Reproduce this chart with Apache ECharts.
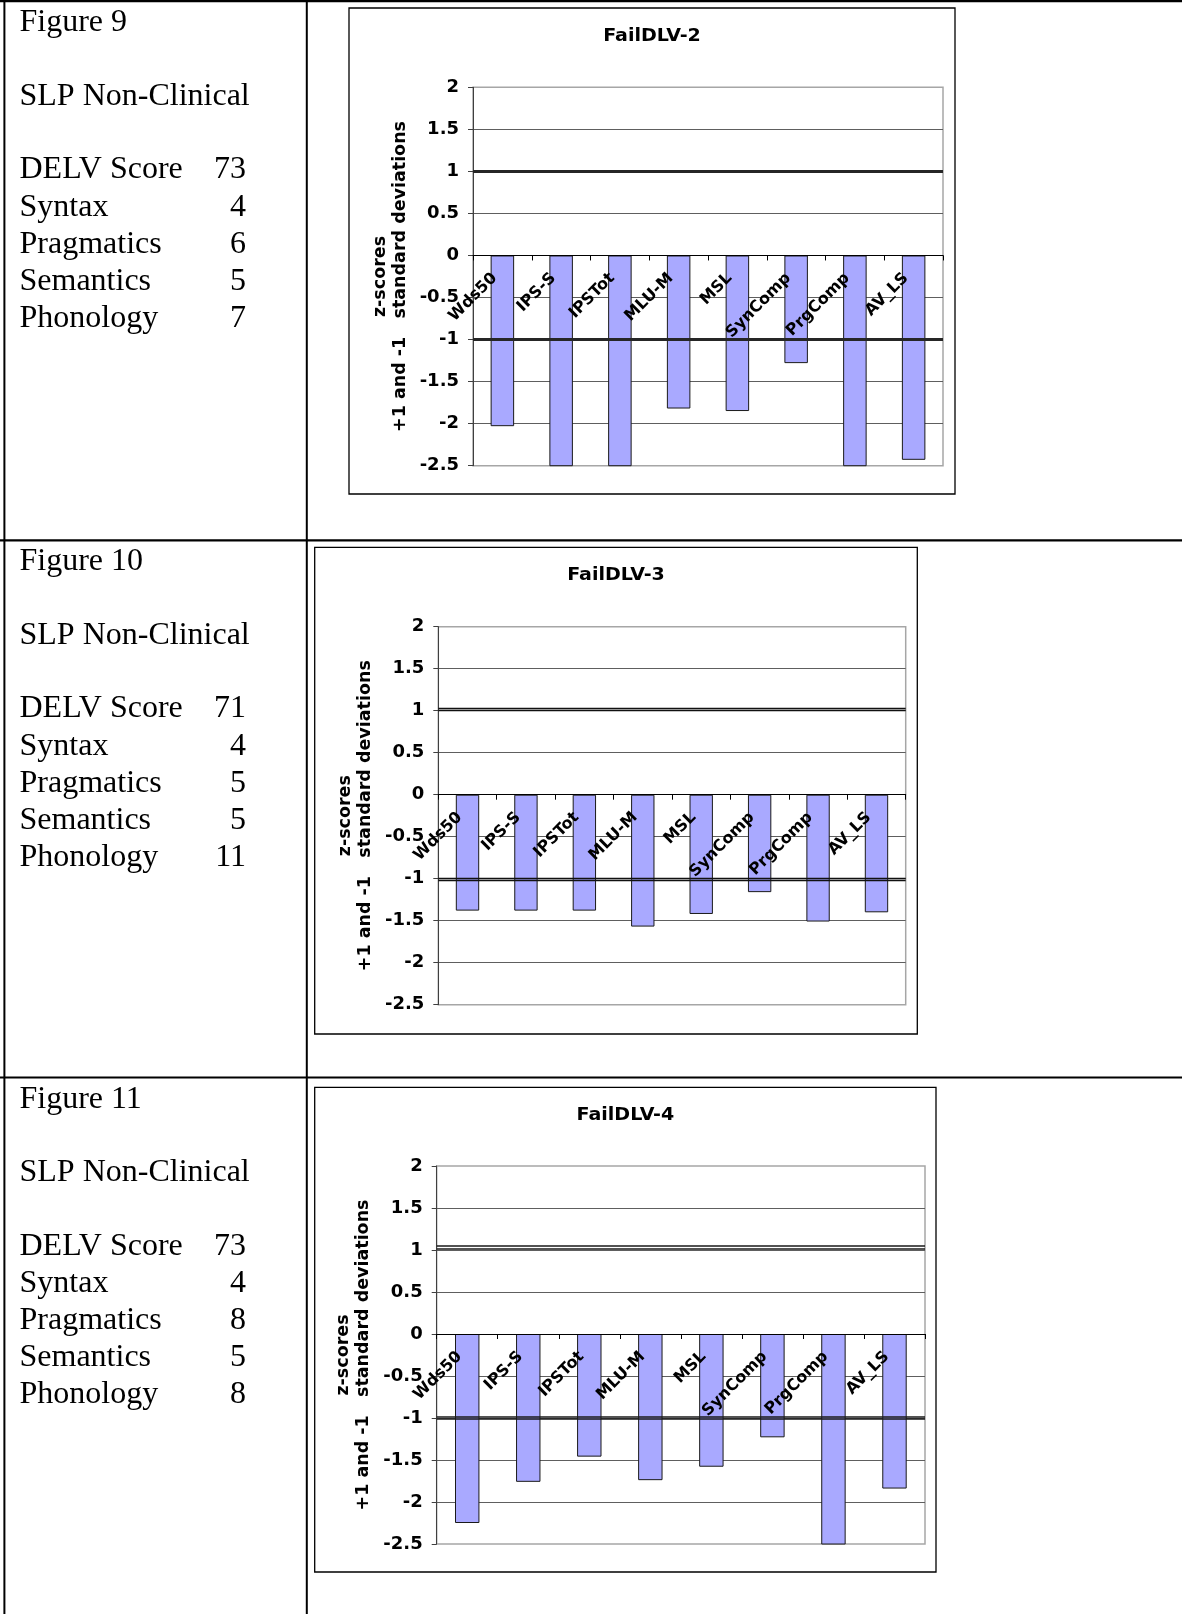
<!DOCTYPE html>
<html>
<head>
<meta charset="utf-8">
<script src="https://cdn.jsdelivr.net/npm/echarts@6/dist/echarts.min.js"></script>
<style>
  html, body { margin: 0; padding: 0; background: #ffffff; }
  #page { width: 1182px; height: 1614px; }
</style>
</head>
<body>
<div id="page"></div>
<script>
// ---- data ----
const categories = ['Wds50', 'IPS-S', 'IPSTot', 'MLU-M', 'MSL', 'SynComp', 'PrgComp', 'AV_LS'];
const chartTitles = ['FailDLV-2', 'FailDLV-3', 'FailDLV-4'];
const zFailDLV2 = [-2.03, -2.6, -2.6, -1.82, -1.85, -1.28, -2.6, -2.43];
const zFailDLV3 = [-1.38, -1.38, -1.38, -1.57, -1.42, -1.16, -1.51, -1.40];
const zFailDLV4 = [-2.25, -1.76, -1.46, -1.74, -1.58, -1.23, -2.6, -1.84];
// hand-drawn +1 / -1 standard deviation rules on each chart
const sdRulesDLV2 = [1, -1];
const sdRulesDLV3 = [1.03, 1.0, -1.0, -1.025];
const sdRulesDLV4 = [1.05, 1.02, -0.985, -1.012];
const yMin = -2.5, yMax = 2, yStep = 0.5;
const yAxisName = 'z-scores\n+1 and -1   standard deviations';

const figureNames = ['Figure 9', 'Figure 10', 'Figure 11'];
const groupName = 'SLP Non-Clinical';
const scoreNames = ['DELV Score', 'Syntax', 'Pragmatics', 'Semantics', 'Phonology'];
const scoresFig9 = [73, 4, 6, 5, 7];
const scoresFig10 = [71, 4, 5, 5, 11];
const scoresFig11 = [73, 4, 8, 5, 8];

// ---- layout ----
const seriesValues = [zFailDLV2, zFailDLV3, zFailDLV4];
const sdRules = [sdRulesDLV2, sdRulesDLV3, sdRulesDLV4];
const figureScores = [scoresFig9, scoresFig10, scoresFig11];
const panels = [
  { box: [349, 8, 955, 494],          plot: [473, 87.3, 943, 465.7],     rowTop: 1,      rule: { color: '#262626', width: 3 } },
  { box: [314.7, 547.3, 917.3, 1034], plot: [438.3, 626.7, 905.7, 1004.7], rowTop: 540,    rule: { color: '#111111', width: 1.4 } },
  { box: [314.7, 1087.3, 936, 1572],  plot: [436.7, 1166, 925, 1544],    rowTop: 1077.3, rule: { color: '#1a1a1a', width: 1.6 } }
];

const chartFont = 'DejaVu Sans';
const serifFont = '"Liberation Serif", "Times New Roman", serif';
const bodySize = 32;
const lineStep = 37.1;

const grids = [], xAxes = [], yAxes = [], series = [], graphics = [];

// table rules
graphics.push(
  { type: 'rect', shape: { x: 0, y: 0, width: 1182, height: 2.2 }, style: { fill: '#000' } },
  { type: 'rect', shape: { x: 3.4, y: 0, width: 2, height: 1614 }, style: { fill: '#000' } },
  { type: 'rect', shape: { x: 305.8, y: 0, width: 2, height: 1614 }, style: { fill: '#000' } },
  { type: 'rect', shape: { x: 0, y: 539.2, width: 1182, height: 2.2 }, style: { fill: '#000' } },
  { type: 'rect', shape: { x: 0, y: 1076.4, width: 1182, height: 2.2 }, style: { fill: '#000' } }
);

panels.forEach((p, i) => {
  const [bx0, by0, bx1, by1] = p.box;
  const [px0, py0, px1, py1] = p.plot;
  const plotH = py1 - py0;

  // chart frame
  graphics.push({
    type: 'rect',
    shape: { x: bx0, y: by0, width: bx1 - bx0, height: by1 - by0 },
    style: { fill: 'none', stroke: '#000', lineWidth: 1.3 }
  });
  // chart title
  graphics.push({
    type: 'text',
    x: (bx0 + bx1) / 2, y: by0 + 28.5, scaleX: 1.12,
    style: {
      text: chartTitles[i], textAlign: 'center', textVerticalAlign: 'middle',
      font: 'bold 17px "' + chartFont + '"', fill: '#000'
    }
  });

  // left column text
  const rows = [
    { t: figureNames[i], y: p.rowTop + 22 },
    { t: groupName, y: p.rowTop + 95.5 }
  ];
  scoreNames.forEach((n, k) => rows.push({ t: n, y: p.rowTop + 169 + k * lineStep, v: figureScores[i][k] }));
  rows.forEach(r => {
    graphics.push({
      type: 'text', x: 19.5, y: r.y,
      style: { text: r.t, textAlign: 'left', textVerticalAlign: 'middle', font: bodySize + 'px ' + serifFont, fill: '#000' }
    });
    if (r.v !== undefined) {
      graphics.push({
        type: 'text', x: 246, y: r.y,
        style: { text: String(r.v), textAlign: 'right', textVerticalAlign: 'middle', font: bodySize + 'px ' + serifFont, fill: '#000' }
      });
    }
  });

  grids.push({
    left: px0, top: py0, width: px1 - px0, height: plotH,
    show: true, borderColor: '#a6a6a6', borderWidth: 1.5, backgroundColor: 'transparent',
    containLabel: false, outerBoundsMode: 'none'
  });

  // the category axis sits on the zero line of the value axis
  const zeroOffset = -(0 - yMin) / (yMax - yMin) * plotH;
  xAxes.push({
    type: 'category', gridIndex: i, data: categories, z: 5,
    position: 'bottom', offset: zeroOffset,
    axisLine: { show: true, onZero: false, lineStyle: { color: '#000', width: 1 } },
    axisTick: { show: true, length: 5, interval: 0, lineStyle: { color: '#000', width: 1 } },
    axisLabel: {
      interval: 0, rotate: 45, margin: 28,
      align: 'right', verticalAlign: 'bottom', lineHeight: 22,
      fontFamily: chartFont, fontWeight: 'bold', fontSize: 16, color: '#000'
    },
    splitLine: { show: false }
  });

  yAxes.push({
    type: 'value', gridIndex: i, min: yMin, max: yMax, interval: yStep,
    name: yAxisName, nameLocation: 'middle', nameRotate: 90, nameGap: 63,
    nameTextStyle: { fontFamily: chartFont, fontWeight: 'bold', fontSize: 17.5, lineHeight: 20, color: '#000', align: 'center' },
    axisLine: { show: true, onZero: false, lineStyle: { color: '#404040', width: 1 } },
    axisTick: { show: true, length: 5, lineStyle: { color: '#404040', width: 1 } },
    axisLabel: { margin: 14, fontFamily: chartFont, fontWeight: 'bold', fontSize: 18, color: '#000' },
    splitLine: { show: true, showMinLine: false, showMaxLine: false, lineStyle: { color: '#5e5e5e', width: 1 } }
  });

  series.push({
    type: 'bar', xAxisIndex: i, yAxisIndex: i, data: seriesValues[i],
    barWidth: '40%', clip: true,
    itemStyle: { color: '#a9a9ff', borderColor: '#1a1a1a', borderWidth: 1 },
    markLine: {
      silent: true, symbol: 'none', animation: false,
      label: { show: false },
      lineStyle: { type: 'solid', color: p.rule.color, width: p.rule.width },
      data: sdRules[i].map(v => ({ yAxis: v }))
    }
  });
});

const chart = echarts.init(document.getElementById('page'), null, { renderer: 'canvas', width: 1182, height: 1614 });
chart.setOption({
  animation: false,
  backgroundColor: '#ffffff',
  grid: grids,
  xAxis: xAxes,
  yAxis: yAxes,
  series: series,
  graphic: { elements: graphics }
});
</script>
</body>
</html>
